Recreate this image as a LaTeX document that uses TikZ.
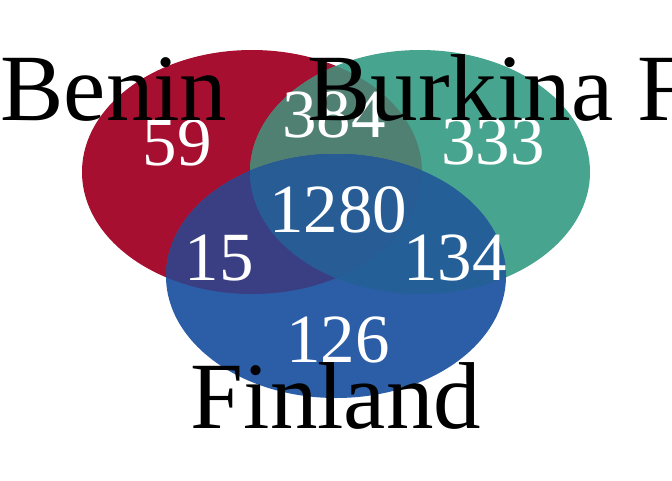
\documentclass[tikz,border=0pt]{standalone}
\usepackage{fontspec}
\setmainfont{Liberation Serif}
\usepackage{xcolor}

\definecolor{beninred}{RGB}{166,15,48}
\definecolor{burkinagreen}{RGB}{71,164,143}
\definecolor{finlandblue}{RGB}{43,94,167}
\definecolor{rgmix}{RGB}{80,128,114}
\definecolor{rbmix}{RGB}{58,63,132}
\definecolor{gbmix}{RGB}{36,95,152}
\definecolor{rgbmix}{RGB}{39,92,149}

\tikzset{
  setshape/.style={x radius=170,y radius=122},
  setname/.style={inner sep=0pt,anchor=base,font=\fontsize{95}{95}\selectfont},
  count/.style={inner sep=0pt,anchor=base,text=white,font=\fontsize{69}{69}\selectfont}
}

\begin{document}
\begin{tikzpicture}[x=1pt,y=-1pt]
  \useasboundingbox (0,0) rectangle (672,480);
  \clip (0,0) rectangle (672,480);

  %set centres
  \coordinate (cbenin) at (252,172);
  \coordinate (cburkina) at (420,172);
  \coordinate (cfinland) at (336,276);

  %plain sets
  \fill[beninred] (cbenin) ellipse [setshape];
  \fill[burkinagreen] (cburkina) ellipse [setshape];
  \begin{scope}
    \clip (cbenin) ellipse [setshape];
    \fill[rgmix] (cburkina) ellipse [setshape];
  \end{scope}
  \fill[finlandblue] (cfinland) ellipse [setshape];

  %overlaps with finland
  \begin{scope}
    \clip (cbenin) ellipse [setshape];
    \fill[rbmix] (cfinland) ellipse [setshape];
  \end{scope}
  \begin{scope}
    \clip (cburkina) ellipse [setshape];
    \fill[gbmix] (cfinland) ellipse [setshape];
  \end{scope}
  \begin{scope}
    \clip (cbenin) ellipse [setshape];
    \clip (cburkina) ellipse [setshape];
    \fill[rgbmix] (cfinland) ellipse [setshape];
  \end{scope}

  %counts
  \node[count] (nb) at (177,165) {59};
  \node[count] (nbk) at (334,137) {384};
  \node[count] (nk) at (493,164) {333};
  \node[count] (nall) at (338,232) {1280};
  \node[count] (nbf) at (219,280) {15};
  \node[count] (nkf) at (455,280) {134};
  \node[count] (nf) at (338,362) {126};

  %set names
  \node[setname] (benin) at (114,120) {Benin};
  \node[setname,anchor=base west] (burkina) at (307,120) {Burkina Faso};
  \node[setname] (finland) at (336,428) {Finland};
\end{tikzpicture}
\end{document}
